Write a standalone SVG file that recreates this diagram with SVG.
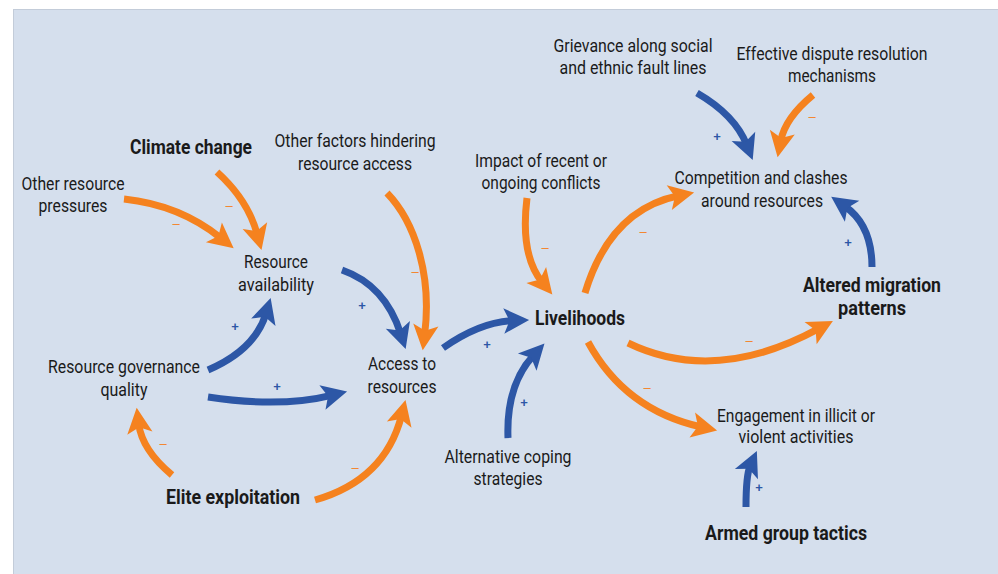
<svg xmlns="http://www.w3.org/2000/svg" width="998" height="574" viewBox="0 0 998 574">
<style>
.t{font-family:Roboto,"Liberation Sans",sans-serif;font-size:18.5px;fill:#1a1a1a;text-anchor:middle}
.b{font-weight:bold;font-size:21px}
.o{fill:none;stroke:#f5821f;stroke-width:7}
.u{fill:none;stroke:#2d57a6;stroke-width:7}
.sm{font-family:"Liberation Sans","DejaVu Sans",sans-serif;font-size:13px;text-anchor:middle}
.so{fill:#f5821f}
.su{fill:#2d57a6;font-weight:bold}
</style>
<defs>
<marker id="ho" markerUnits="userSpaceOnUse" markerWidth="30" markerHeight="30" viewBox="-10 -12 26 24" refX="0" refY="0" orient="auto"><path d="M14,0 L-8,-11 L-3,0 L-8,11 Z" fill="#f5821f"/></marker>
<marker id="hu" markerUnits="userSpaceOnUse" markerWidth="30" markerHeight="30" viewBox="-10 -12 26 24" refX="0" refY="0" orient="auto"><path d="M14,0 L-8,-11 L-3,0 L-8,11 Z" fill="#2d57a6"/></marker>
</defs>
<rect x="13.5" y="9.5" width="990" height="570" fill="#d5dfed" stroke="#c3ccd9" stroke-width="1"/>
<g id="connectors">
<path class="o" marker-end="url(#ho)" d="M124,199 Q180,205 221.1,238.2"/>
<path class="o" marker-end="url(#ho)" d="M217,172 Q248,200 257.3,234.5"/>
<path class="o" marker-end="url(#ho)" d="M387,193 C415,222 432,275 424.7,334.1"/>
<path class="u" marker-end="url(#hu)" d="M342,270 Q385,285 400.7,333.7"/>
<path class="u" marker-end="url(#hu)" d="M208,370 Q255,350 266,313.4"/>
<path class="u" marker-end="url(#hu)" d="M208,397 Q280,408 331.4,395.3"/>
<path class="o" marker-end="url(#ho)" d="M172,475 Q142,450 138.7,423.9"/>
<path class="o" marker-end="url(#ho)" d="M315,500 Q385,480 401.5,415.6"/>
<path class="u" marker-end="url(#hu)" d="M443,348 Q480,322 513,320.6"/>
<path class="u" marker-end="url(#hu)" d="M508,438 Q506,385 533.5,355.3"/>
<path class="o" marker-end="url(#ho)" d="M527,198 Q520,255 542.1,282.1"/>
<path class="o" marker-end="url(#ho)" d="M585,293 Q610,210 678.3,195.8"/>
<path class="u" marker-end="url(#hu)" d="M697,93 Q735,115 746.8,145"/>
<path class="o" marker-end="url(#ho)" d="M813,95 Q785,118 780.6,141.3"/>
<path class="u" marker-end="url(#hu)" d="M872,267 Q872,225 844.5,206"/>
<path class="o" marker-end="url(#ho)" d="M628,343 Q715,385 818.7,328.7"/>
<path class="o" marker-end="url(#ho)" d="M588,342 Q625,410 701.3,427"/>
<path class="u" marker-end="url(#hu)" d="M746,507 Q746,475 750.2,465.7"/>
<g class="sm">
<text class="so" x="176" y="228">–</text>
<text class="so" x="229" y="210">–</text>
<text class="so" x="415" y="276">–</text>
<text class="su" x="362" y="310">+</text>
<text class="su" x="235" y="331">+</text>
<text class="su" x="277" y="391">+</text>
<text class="so" x="163" y="448">–</text>
<text class="so" x="355" y="472">–</text>
<text class="su" x="487" y="349">+</text>
<text class="su" x="524" y="407">+</text>
<text class="so" x="545" y="252">–</text>
<text class="so" x="643" y="236">–</text>
<text class="su" x="717" y="141">+</text>
<text class="so" x="812" y="121">–</text>
<text class="su" x="848" y="247">+</text>
<text class="so" x="749" y="345">–</text>
<text class="so" x="647" y="392">–</text>
<text class="su" x="759" y="492">+</text>
</g>
</g>
<g id="n-climate"><text class="t b" x="191" y="154" textLength="122" lengthAdjust="spacingAndGlyphs">Climate change</text></g>
<g id="n-other-pressures"><text class="t" x="73" y="190" textLength="103" lengthAdjust="spacingAndGlyphs">Other resource</text><text class="t" x="73" y="212" textLength="69" lengthAdjust="spacingAndGlyphs">pressures</text></g>
<g id="n-other-factors"><text class="t" x="355" y="147" textLength="161" lengthAdjust="spacingAndGlyphs">Other factors hindering</text><text class="t" x="355" y="170" textLength="114" lengthAdjust="spacingAndGlyphs">resource access</text></g>
<g id="n-impact"><text class="t" x="541" y="167" textLength="132" lengthAdjust="spacingAndGlyphs">Impact of recent or</text><text class="t" x="541" y="189" textLength="119" lengthAdjust="spacingAndGlyphs">ongoing conflicts</text></g>
<g id="n-grievance"><text class="t" x="633" y="52" textLength="159" lengthAdjust="spacingAndGlyphs">Grievance along social</text><text class="t" x="633" y="74" textLength="147" lengthAdjust="spacingAndGlyphs">and ethnic fault lines</text></g>
<g id="n-dispute"><text class="t" x="832" y="60" textLength="191" lengthAdjust="spacingAndGlyphs">Effective dispute resolution</text><text class="t" x="832" y="82" textLength="88" lengthAdjust="spacingAndGlyphs">mechanisms</text></g>
<g id="n-competition"><text class="t" x="761" y="184" textLength="173" lengthAdjust="spacingAndGlyphs">Competition and clashes</text><text class="t" x="762" y="207" textLength="122" lengthAdjust="spacingAndGlyphs">around resources</text></g>
<g id="n-migration"><text class="t b" x="872" y="292" textLength="138" lengthAdjust="spacingAndGlyphs">Altered migration</text><text class="t b" x="872" y="315" textLength="68" lengthAdjust="spacingAndGlyphs">patterns</text></g>
<g id="n-availability"><text class="t" x="276" y="268" textLength="64" lengthAdjust="spacingAndGlyphs">Resource</text><text class="t" x="276" y="291" textLength="76" lengthAdjust="spacingAndGlyphs">availability</text></g>
<g id="n-governance"><text class="t" x="124" y="373" textLength="152" lengthAdjust="spacingAndGlyphs">Resource governance</text><text class="t" x="124" y="396" textLength="47" lengthAdjust="spacingAndGlyphs">quality</text></g>
<g id="n-access"><text class="t" x="402" y="370" textLength="68" lengthAdjust="spacingAndGlyphs">Access to</text><text class="t" x="402" y="393" textLength="69" lengthAdjust="spacingAndGlyphs">resources</text></g>
<g id="n-livelihoods"><text class="t b" x="580" y="325" textLength="90" lengthAdjust="spacingAndGlyphs">Livelihoods</text></g>
<g id="n-coping"><text class="t" x="508" y="463" textLength="127" lengthAdjust="spacingAndGlyphs">Alternative coping</text><text class="t" x="508" y="485" textLength="69" lengthAdjust="spacingAndGlyphs">strategies</text></g>
<g id="n-engagement"><text class="t" x="796" y="422" textLength="158" lengthAdjust="spacingAndGlyphs">Engagement in illicit or</text><text class="t" x="796" y="443" textLength="115" lengthAdjust="spacingAndGlyphs">violent activities</text></g>
<g id="n-armed"><text class="t b" x="786" y="540" textLength="162" lengthAdjust="spacingAndGlyphs">Armed group tactics</text></g>
<g id="n-elite"><text class="t b" x="233" y="504" textLength="134" lengthAdjust="spacingAndGlyphs">Elite exploitation</text></g>
</svg>
